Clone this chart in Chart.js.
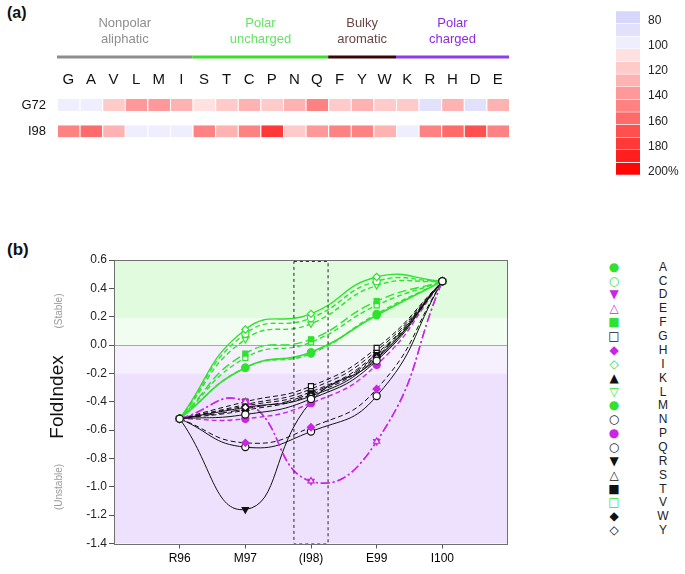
<!DOCTYPE html>
<html><head><meta charset="utf-8">
<script src="https://cdn.jsdelivr.net/npm/chart.js@4.4.0/dist/chart.umd.min.js"></script>
<style>
html,body{margin:0;padding:0;background:#fff;width:685px;height:574px;overflow:hidden;font-family:'Liberation Sans',Arial,sans-serif;color:#111;}
.abs{position:absolute;white-space:nowrap;}
canvas{position:absolute;}
.rot{position:absolute;transform:translate(-50%,-50%) rotate(-90deg);white-space:nowrap;}
</style></head><body>
<div class="abs" style="left:7px;top:4px;font-size:16px;font-weight:bold;">(a)</div>
<div class="abs" style="left:7px;top:240px;font-size:17px;font-weight:bold;">(b)</div>
<canvas id="hm" width="580" height="163" style="left:0;top:0"></canvas>
<canvas id="cb" width="85" height="185" style="left:600px;top:0"></canvas>
<canvas id="fi" width="600" height="349" style="left:0;top:225px"></canvas>
<div class="rot" style="left:57px;top:397px;font-size:19px;color:#111;">FoldIndex</div>
<div class="rot" style="left:58px;top:311px;font-size:10px;color:#9a9a9a;">(Stable)</div>
<div class="rot" style="left:58px;top:487px;font-size:10px;color:#9a9a9a;">(Unstable)</div>
<div id="legend"></div>
<script>
// ---------- data: panel (a) ----------
const aminoAcids = ['G','A','V','L','M','I','S','T','C','P','N','Q','F','Y','W','K','R','H','D','E'];
const rowLabels = ['G72','I98'];
const g72Values = [100,100,120,140,140,130,110,120,130,120,130,150,120,130,120,120,90,130,90,130];
const i98Values = [150,160,130,100,100,100,150,130,150,180,120,140,150,150,130,100,150,160,170,150];
const groupNames = [['Nonpolar','aliphatic'],['Polar','uncharged'],['Bulky','aromatic'],['Polar','charged']];
const groupStart = [0,6,12,15];
const groupEnd = [6,12,15,20];
const colorbarValues = [80,90,100,110,120,130,140,150,160,170,180,190,200];
const colorbarLabels = [80,100,120,140,160,180,200];

// ---------- data: panel (b) ----------
const residues = ['R96','M97','(I98)','E99','I100'];
const residuePos = [0,1,2,3,4];
const yTickValues = [0.6,0.4,0.2,0.0,-0.2,-0.4,-0.6,-0.8,-1.0,-1.2,-1.4];
const bandEdges = [0.6,0.19,0.0,-0.2,-1.4];
const boxX = [1.74,2.26,2.26,1.74,1.74];
const boxY = [0.59,0.59,-1.4,-1.4,0.59];
const foldA = [-0.52,-0.16,-0.05,0.21,0.45];
const foldC = [-0.52,0.08,0.19,0.45,0.45];
const foldD = [-0.52,-0.40,-0.96,-0.68,0.45];
const foldE = [-0.52,-0.40,-0.96,-0.68,0.45];
const foldF = [-0.52,-0.06,0.04,0.31,0.45];
const foldG = [-0.52,-0.40,-0.29,-0.02,0.45];
const foldH = [-0.52,-0.69,-0.58,-0.31,0.45];
const foldI = [-0.52,0.11,0.22,0.48,0.45];
const foldK = [-0.52,-0.43,-0.33,-0.06,0.45];
const foldL = [-0.52,0.04,0.15,0.42,0.45];
const foldM = [-0.52,-0.16,-0.06,0.22,0.45];
const foldN = [-0.52,-0.49,-0.38,-0.11,0.45];
const foldP = [-0.52,-0.52,-0.41,-0.14,0.45];
const foldQ = [-0.52,-0.72,-0.61,-0.36,0.45];
const foldR = [-0.52,-1.16,-0.40,-0.10,0.45];
const foldS = [-0.52,-0.42,-0.31,-0.04,0.45];
const foldT = [-0.52,-0.45,-0.34,-0.07,0.45];
const foldV = [-0.52,-0.09,0.02,0.28,0.45];
const foldW = [-0.52,-0.46,-0.35,-0.08,0.45];
const foldY = [-0.52,-0.44,-0.36,-0.09,0.45];
const legendOrder = ['A','C','D','E','F','G','H','I','K','L','M','N','P','Q','R','S','T','V','W','Y'];

// ---------- styles ----------
const FONT = "'Liberation Sans', Arial, sans-serif";
Chart.defaults.font.family = FONT;
Chart.defaults.color = '#111';
const palette = ['#d7d7fb','#e1e1fc','#eeeefe','#ffe1e1','#ffcaca','#ffb2b2','#ff9999','#ff8282','#ff6a6a','#ff5050','#ff3838','#ff1f1f','#ff0606'];
function colorFor(v){ const i = Math.max(0, Math.min(palette.length-1, Math.round((v-80)/10))); return palette[i]; }
const groupTextColors = ['#8e8e8e','#66e366','#6b4646','#8a2be2'];
const groupBarColors = ['#8e8e8e','#3ade2a','#3a0606','#8c3cf2'];

// ---------- heatmap ----------
const groupPlugin = {
  id:'groups',
  afterDraw(chart){
    const ctx = chart.ctx, x = chart.scales.x;
    ctx.save();
    ctx.font = '13px ' + FONT;
    ctx.textAlign = 'center'; ctx.textBaseline = 'alphabetic';
    groupNames.forEach((nm,i)=>{
      const x0 = x.getPixelForValue(groupStart[i]), x1 = x.getPixelForValue(groupEnd[i]);
      const cx = (x0+x1)/2;
      ctx.fillStyle = groupTextColors[i];
      ctx.fillText(nm[0], cx, 26.5);
      ctx.fillText(nm[1], cx, 43);
      ctx.fillStyle = groupBarColors[i];
      ctx.fillRect(x0, 55.5, x1-x0, 3);
    });
    ctx.restore();
  }
};
new Chart(document.getElementById('hm'), {
  type:'bar',
  data:{
    labels: rowLabels,
    datasets: aminoAcids.map((a,i)=>({
      label:a,
      data:[1,1],
      backgroundColor:[colorFor(g72Values[i]), colorFor(i98Values[i])],
      borderColor:'#ffffff',
      borderWidth:{left:1,right:0,top:0,bottom:0},
      borderSkipped:false,
      barPercentage:1,
      categoryPercentage:0.46
    }))
  },
  options:{
    indexAxis:'y', responsive:false, animation:false,
    layout:{padding:{left:0,right:71,top:60,bottom:6}},
    plugins:{legend:{display:false}, tooltip:{enabled:false}},
    scales:{
      x:{type:'linear', position:'top', stacked:true, min:0, max:20,
         grid:{display:false, drawTicks:false}, border:{display:false},
         afterBuildTicks:(s)=>{ s.ticks = aminoAcids.map((a,i)=>({value:i+0.5})); },
         afterFit:(s)=>{ s.height = 32; },
         ticks:{padding:3, font:{size:15}, color:'#111', maxRotation:0, autoSkip:false,
                callback:(v,i)=>aminoAcids[i]}},
      y:{type:'category', stacked:true,
         grid:{display:false, drawTicks:false}, border:{display:false},
         afterFit:(s)=>{ s.width = 57; },
         ticks:{padding:11, font:{size:13}, color:'#111'}}
    }
  },
  plugins:[groupPlugin]
});

// ---------- colorbar ----------
const cbLabelPlugin = {
  id:'cbLabels',
  afterDraw(chart){
    const {ctx, chartArea:a, scales:{y}} = chart;
    ctx.save();
    ctx.font = '12px ' + FONT; ctx.fillStyle = '#222';
    ctx.textAlign = 'left'; ctx.textBaseline = 'middle';
    colorbarLabels.forEach((v,i)=>{
      const txt = i===colorbarLabels.length-1 ? v+'%' : String(v);
      ctx.fillText(txt, a.right + 8, y.getPixelForValue(v) + 3);
    });
    ctx.restore();
  }
};
new Chart(document.getElementById('cb'), {
  type:'bar',
  data:{
    labels:[''],
    datasets: colorbarValues.map(v=>({
      data:[[v-5, v+5]],
      backgroundColor: colorFor(v),
      borderColor:'#ffffff',
      borderWidth:{top:0.6,bottom:0.6,left:0,right:0},
      borderSkipped:false,
      barPercentage:1, categoryPercentage:1, grouped:false
    }))
  },
  options:{
    responsive:false, animation:false,
    layout:{padding:{left:16,right:45,top:11,bottom:10}},
    plugins:{legend:{display:false}, tooltip:{enabled:false}},
    scales:{
      x:{display:false},
      y:{display:false, type:'linear', reverse:true, min:75, max:205}
    }
  },
  plugins:[cbLabelPlugin]
});

// ---------- FoldIndex line chart ----------
const GREEN='#2fe22f', MAG='#c925e6', BLK='#111111';
const DASH=[5,3], LONG=[9,4], DOTD=[9,3,2,3], SOLID=[];
const styles = {
  A:{c:GREEN,d:SOLID,m:'circle',f:true,mc:GREEN,w:1.6,g:'●'},
  C:{c:GREEN,d:DASH,m:'circle',f:false,mc:GREEN,w:1.4,g:'○'},
  D:{c:MAG,d:DOTD,m:'triangle',rot:180,f:false,mc:MAG,w:1.4,g:'▼'},
  E:{c:MAG,d:DOTD,m:'triangle',f:false,mc:MAG,w:1.4,g:'△'},
  F:{c:GREEN,d:LONG,m:'rect',f:true,mc:GREEN,w:1.4,g:'■'},
  G:{c:BLK,d:DASH,m:'rect',f:false,mc:BLK,w:1,g:'□'},
  H:{c:BLK,d:DASH,m:'rectRot',f:true,mc:MAG,w:1,g:'◆'},
  I:{c:GREEN,d:SOLID,m:'rectRot',f:false,mc:GREEN,w:1.4,g:'◇'},
  K:{c:BLK,d:DASH,m:'triangle',f:true,mc:BLK,w:1,g:'▲'},
  L:{c:GREEN,d:DASH,m:'triangle',rot:180,f:false,mc:GREEN,w:1.4,g:'▽'},
  M:{c:GREEN,d:DASH,m:'circle',f:true,mc:GREEN,w:1.4,g:'●'},
  N:{c:BLK,d:SOLID,m:'circle',f:false,mc:BLK,w:1,g:'○'},
  P:{c:MAG,d:DASH,m:'circle',f:true,mc:MAG,w:1.4,g:'●'},
  Q:{c:BLK,d:SOLID,m:'circle',f:false,mc:BLK,w:1,g:'○'},
  R:{c:BLK,d:SOLID,m:'triangle',rot:180,f:true,mc:BLK,w:1,g:'▼'},
  S:{c:BLK,d:DASH,m:'triangle',f:false,mc:BLK,w:1,g:'△'},
  T:{c:BLK,d:LONG,m:'rect',f:true,mc:BLK,w:1,g:'■'},
  V:{c:GREEN,d:DASH,m:'rect',f:false,mc:GREEN,w:1.4,g:'□'},
  W:{c:BLK,d:DASH,m:'rectRot',f:true,mc:BLK,w:1,g:'◆'},
  Y:{c:BLK,d:SOLID,m:'rectRot',f:false,mc:BLK,w:1,g:'◇'}
};
const foldSeries = {A:foldA,C:foldC,D:foldD,E:foldE,F:foldF,G:foldG,H:foldH,I:foldI,K:foldK,L:foldL,
  M:foldM,N:foldN,P:foldP,Q:foldQ,R:foldR,S:foldS,T:foldT,V:foldV,W:foldW,Y:foldY};
const drawOrder = ['N','Y','I','C','L','F','V','A','M','P','E','D','H','G','S','K','T','W','Q','R'];
const bandColors = ['#e1fbde','#f1fdf0','#f6effe','#eee1fd'];

const bgPlugin = {
  id:'bands',
  beforeDatasetsDraw(chart){
    const {ctx, chartArea:a, scales:{y}} = chart;
    ctx.save();
    for (let i=0;i<bandColors.length;i++){
      const y0 = y.getPixelForValue(bandEdges[i]), y1 = y.getPixelForValue(bandEdges[i+1]);
      ctx.fillStyle = bandColors[i];
      ctx.fillRect(a.left, y0, a.right-a.left, y1-y0);
    }
    const z = y.getPixelForValue(0);
    ctx.strokeStyle = '#f08a8a'; ctx.lineWidth = 1;
    ctx.beginPath(); ctx.moveTo(a.left, Math.round(z)+0.5); ctx.lineTo(a.right, Math.round(z)+0.5); ctx.stroke();
    ctx.restore();
  },
  afterDraw(chart){
    const {ctx, chartArea:a} = chart;
    ctx.save(); ctx.strokeStyle = '#707070'; ctx.lineWidth = 1;
    ctx.strokeRect(Math.round(a.left)+0.5, Math.round(a.top)+0.5, Math.round(a.right-a.left)-1, Math.round(a.bottom-a.top));
    ctx.restore();
  }
};

const datasets = [{
  label:'box', data: boxX.map((x,i)=>({x, y:boxY[i]})),
  borderColor:'#222', borderWidth:1, borderDash:[3,3], pointRadius:0, tension:0, fill:false
}];
drawOrder.forEach(k=>{
  const s = styles[k];
  datasets.push({
    label:k,
    data: residuePos.map((x,i)=>({x, y:foldSeries[k][i]})),
    borderColor:s.c, borderWidth:s.w, borderDash:s.d, tension:0.5, fill:false,
    pointStyle:s.m, pointRotation:s.rot||0, pointRadius:3.6,
    pointBackgroundColor: s.f ? s.mc : '#ffffff', pointBorderColor:s.mc, pointBorderWidth:1.2
  });
});

new Chart(document.getElementById('fi'), {
  type:'line',
  data:{datasets},
  options:{
    responsive:false, animation:false,
    layout:{padding:{left:0,right:92,top:35,bottom:0}},
    plugins:{legend:{display:false}, tooltip:{enabled:false}},
    scales:{
      x:{type:'linear', min:-1, max:5,
         grid:{drawOnChartArea:false, tickLength:5, color:'#555'}, border:{display:false},
         afterBuildTicks:(s)=>{ s.ticks = residuePos.map(v=>({value:v})); },
         afterFit:(s)=>{ s.height = 30.5; },
         ticks:{padding:3, font:{size:12}, color:'#000', maxRotation:0, autoSkip:false,
                callback:(v,i)=>residues[i]}},
      y:{type:'linear', min:-1.4, max:0.6,
         grid:{drawOnChartArea:false, tickLength:5, color:'#555'}, border:{display:false},
         afterBuildTicks:(s)=>{ s.ticks = yTickValues.map(v=>({value:v})); },
         afterFit:(s)=>{ s.width = 114; },
         ticks:{padding:2, font:{size:12}, color:'#222', autoSkip:false,
                callback:(v)=> Math.abs(v)<1e-9 ? '0.0' : Number(v).toFixed(1)}}
    }
  },
  plugins:[bgPlugin]
});

// ---------- legend for (b) ----------
const leg = document.getElementById('legend');
legendOrder.forEach((k,i)=>{
  const s = styles[k];
  const cy = 266.7 + 13.87*i;
  const m = document.createElement('div');
  m.className='abs';
  m.style.cssText = `left:606px;top:${cy-8}px;width:16px;height:16px;line-height:16px;text-align:center;font-family:'DejaVu Sans';font-size:12px;color:${s.mc};`;
  m.textContent = s.g;
  leg.appendChild(m);
  const t = document.createElement('div');
  t.className='abs';
  t.style.cssText = `left:653px;top:${cy-8}px;width:20px;height:16px;line-height:16px;text-align:center;font-size:12px;color:#222;`;
  t.textContent = k;
  leg.appendChild(t);
});
</script>
</body></html>
